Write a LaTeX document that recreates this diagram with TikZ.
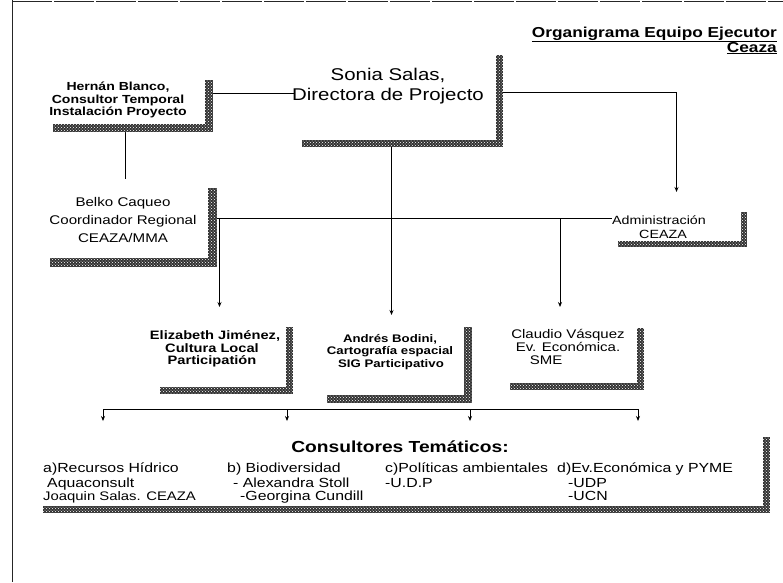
\documentclass[tikz,border=0pt]{standalone}
\usepackage{fontspec}
\setmainfont{Liberation Sans}[FakeStretch=1.2]
\usetikzlibrary{arrows.meta,patterns}
\pgfdeclarelayer{bg}
\pgfsetlayers{bg,main}
\newcommand\fsz[1]{\fontsize{#1}{#1}\selectfont}
\begin{document}
\begin{tikzpicture}[x=1pt,y=-1pt,
  shbox/.style={fill=white, draw=none, inner sep=0pt, outer sep=0pt,
    preaction={fill=black!80, transform canvas={shift={(#1pt,-#1pt)}}},
    preaction={pattern=crosshatch dots, pattern color=white, transform canvas={shift={(#1pt,-#1pt)}}}},
  txt/.style={inner sep=0pt, anchor=base},
  conn/.style={draw=black, line width=0.8pt},
  arr/.style={conn, -{Stealth[length=5pt,width=4pt]}},
  frame/.style={draw=black!85, line width=0.8pt}]
\useasboundingbox (0,0) rectangle (783,582);
% page frame
\draw[frame] (12,0) -- (12,582);
\draw[frame, dash pattern=on 40pt off 2pt] (12,1) -- (783,1);

% title
\node[txt, anchor=base east, font={\bfseries\fsz{14.4}}] (title1) at (777,37) {\underline{Organigrama Equipo Ejecutor}};
\node[txt, anchor=base east, font={\bfseries\fsz{14.4}}] (title2) at (777,52) {\underline{Ceaza}};

% boxes
\node[shbox=7, minimum width=201pt, minimum height=92pt] (sonia) at (395.5,94) {};
\node[shbox=8, minimum width=160pt, minimum height=52pt] (hernan) at (125,98) {};
\node[shbox=9, minimum width=167pt, minimum height=79pt] (belko) at (124.5,218.5) {};
\node[shbox=6, minimum width=129pt, minimum height=35pt] (admin) at (676.5,223.5) {};
\node[shbox=7, minimum width=133pt, minimum height=67pt] (eliz) at (219.5,353.5) {};
\node[shbox=8, minimum width=145pt, minimum height=76pt] (andres) at (391.5,357) {};
\node[shbox=7, minimum width=134pt, minimum height=62pt] (claudio) at (570,352) {};
\node[shbox=7, minimum width=727pt, minimum height=76pt] (consult) at (399.5,468) {};

% texts
\node[txt, font={\fsz{17}}] (sonia1) at (388,80) {Sonia Salas,};
\node[txt, font={\fsz{17}}] (sonia2) at (388,100) {Directora de Projecto};

\node[txt, font={\bfseries\fsz{11.7}}] (hernan1) at (118,90) {Hernán Blanco,};
\node[txt, font={\bfseries\fsz{11.7}}] (hernan2) at (118,103) {Consultor Temporal};
\node[txt, font={\bfseries\fsz{11.7}}] (hernan3) at (118,115) {Instalación Proyecto};

\node[txt, font={\fsz{12.6}}] (belko1) at (123,206) {Belko Caqueo};
\node[txt, font={\fsz{12.6}}] (belko2) at (123,224) {Coordinador Regional};
\node[txt, font={\fsz{12.6}}] (belko3) at (123,242) {CEAZA/MMA};

\node[txt, font={\fsz{11.9}}] (admin1) at (659,224) {Administración};
\node[txt, font={\fsz{11.9}}] (admin2) at (663,238) {CEAZA};

\node[txt, font={\bfseries\fsz{12.2}}] (eliz1) at (215,339) {Elizabeth Jiménez,};
\node[txt, font={\bfseries\fsz{12.2}}] (eliz2) at (212,352) {Cultura Local};
\node[txt, font={\bfseries\fsz{12.2}}] (eliz3) at (212,364) {Participatión};

\node[txt, font={\bfseries\fsz{11}}] (andres1) at (390,342) {Andrés Bodini,};
\node[txt, font={\bfseries\fsz{11}}] (andres2) at (390,354.5) {Cartografía espacial};
\node[txt, font={\bfseries\fsz{11}}] (andres3) at (391,367) {SIG Participativo};

\node[txt, font={\fsz{12.5}}] (claudio1) at (568,338) {Claudio Vásquez};
\node[txt, font={\fsz{12.5}}] (claudio2) at (568,351) {Ev. Económica.};
\node[txt, font={\fsz{12.5}}] (claudio3) at (546,364) {SME};

\node[txt, font={\bfseries\fsz{16}}] (ctitle) at (400,452) {Consultores Temáticos:};
\node[txt, anchor=base west, font={\fsz{13.2}}] (ca1) at (43,472) {a)Recursos Hídrico};
\node[txt, anchor=base west, font={\fsz{13.2}}] (ca2) at (47,487) {Aquaconsult};
\node[txt, anchor=base west, font={\fsz{12.4}}] (ca3) at (43,500) {Joaquin Salas. CEAZA};
\node[txt, anchor=base west, font={\fsz{13.2}}] (cb1) at (227,472) {b) Biodiversidad};
\node[txt, anchor=base west, font={\fsz{13.2}}] (cb2) at (233,487) {- Alexandra Stoll};
\node[txt, anchor=base west, font={\fsz{13.2}}] (cb3) at (240,500) {-Georgina Cundill};
\node[txt, anchor=base west, font={\fsz{13.2}}] (cc1) at (385,472) {c)Políticas ambientales};
\node[txt, anchor=base west, font={\fsz{13.2}}] (cc2) at (385,487) {-U.D.P};
\node[txt, anchor=base west, font={\fsz{13.2}}] (cd1) at (557,472) {d)Ev.Económica y PYME};
\node[txt, anchor=base west, font={\fsz{13.2}}] (cd2) at (568,487) {-UDP};
\node[txt, anchor=base west, font={\fsz{13.2}}] (cd3) at (568,500) {-UCN};

% free coordinates
\coordinate (cv) at ([xshift=-10pt]claudio.north);
\coordinate (d1) at (103,409);
\coordinate (d2) at (287,409);
\coordinate (d3) at (470,409);
\coordinate (d4) at (638,409);

\begin{pgfonlayer}{bg}
\draw[conn] ([yshift=5pt]hernan.east) -- ([yshift=5pt]hernan.east -| sonia.west);
\draw[arr, shorten >=14pt] ([yshift=2pt]sonia.east) -| (admin.north);
\draw[arr, shorten >=4pt] (sonia.south -| andres.north) -- (andres.north);
\draw[conn] (hernan.south) -- (hernan.south |- belko.north);
\draw[conn] (belko.east) -- (belko.east -| admin.west);
\draw[arr, shorten >=13pt] (belko.east -| eliz.north) -- (eliz.north);
\draw[arr, shorten >=14pt] (belko.east -| cv) -- (cv);
\draw[conn] (d1) -- (d4);
\foreach \d in {d1,d2,d3,d4}{
  \draw[arr, shorten >=9pt] (\d) -- (\d |- consult.north);
}
\end{pgfonlayer}
\end{tikzpicture}
\end{document}
